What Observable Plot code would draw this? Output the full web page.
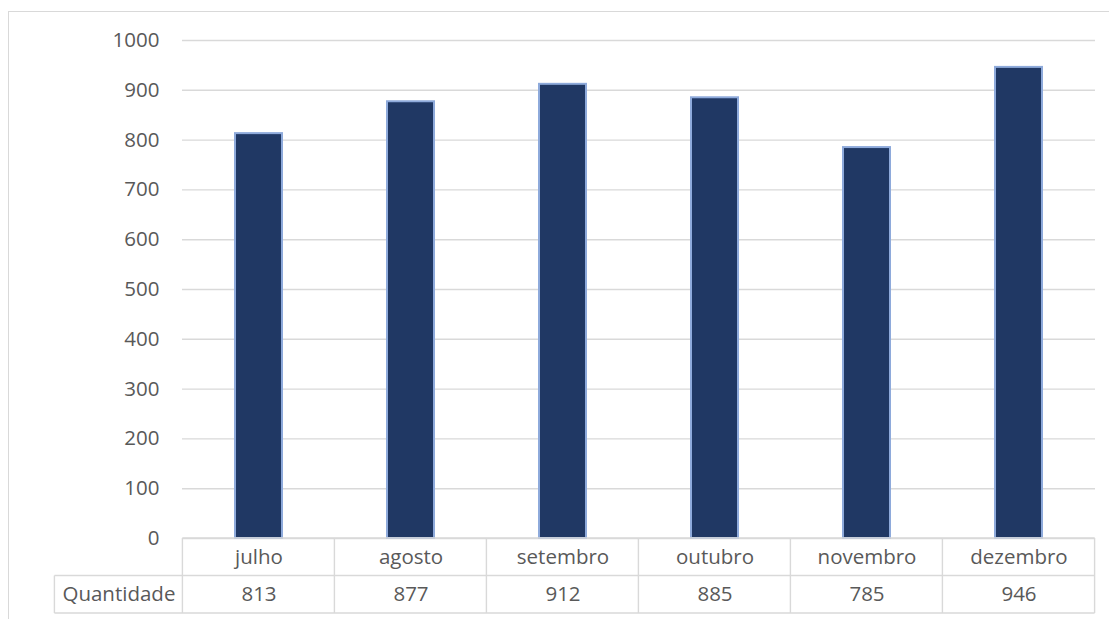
<!DOCTYPE html>
<html><head><meta charset="utf-8">
<script src="https://cdn.jsdelivr.net/npm/d3@7"></script>
<script src="https://cdn.jsdelivr.net/npm/@observablehq/plot@0.6"></script>
<style>
html,body{margin:0;padding:0;background:#fff;overflow:hidden;}
#wrap{position:relative;width:1109px;height:619px;overflow:hidden;background:#fff;}
#frame{position:absolute;left:8px;top:11px;width:1200px;height:700px;border-left:1px solid #d9d9d9;border-top:1px solid #d9d9d9;}
#chart{position:absolute;left:0;top:0;}
</style></head><body>
<div id="wrap"><div id="frame"></div><div id="chart"></div></div>
<script>
const months = ["julho", "agosto", "setembro", "outubro", "novembro", "dezembro"];
const quantities = [813, 877, 912, 885, 785, 946];
const seriesName = "Quantidade";
const yTicks = [0, 100, 200, 300, 400, 500, 600, 700, 800, 900, 1000];

const data = months.map((m, i) => ({month: m, value: quantities[i]}));

const FONT = "'Open Sans', sans-serif";
const FS = 20.5;
const TEXT = "#595959";
const GRID = "#d9d9d9";
const W = 1109, H = 619, ML = 182, MR = 14, MT = 40, MB = 81;
const STEP = (W - ML - MR) / months.length;
const ROW = 37.5;       // table row height
const HEAD_W = 128;     // width of the "Quantidade" header cell

function tableLines(index, scales, values, dims) {
  const x = scales.x;
  const bw = x.bandwidth ? x.bandwidth() : 0;
  const top = dims.height - dims.marginBottom;
  const edges = months.map(m => x(m) + bw / 2 - STEP / 2);
  edges.push(edges[edges.length - 1] + STEP);
  const left = edges[0], right = edges[edges.length - 1];
  const g = d3.create("svg:g").attr("stroke", GRID).attr("stroke-width", 1.4).attr("fill", "none");
  g.append("line").attr("x1", left).attr("x2", right).attr("y1", top).attr("y2", top);
  g.append("line").attr("x1", left - HEAD_W).attr("x2", right).attr("y1", top + ROW).attr("y2", top + ROW);
  g.append("line").attr("x1", left - HEAD_W).attr("x2", right).attr("y1", top + 2 * ROW).attr("y2", top + 2 * ROW);
  for (const e of edges) {
    g.append("line").attr("x1", e).attr("x2", e).attr("y1", top).attr("y2", top + 2 * ROW);
  }
  g.append("line").attr("x1", left - HEAD_W).attr("x2", left - HEAD_W).attr("y1", top + ROW).attr("y2", top + 2 * ROW);
  return g.node();
}

const chart = Plot.plot({
  width: W, height: H,
  marginLeft: ML, marginRight: MR, marginTop: MT, marginBottom: MB,
  style: {fontFamily: FONT, fontSize: FS + "px", color: TEXT, background: "transparent", overflow: "visible"},
  x: {type: "band", domain: months, paddingInner: 0.69, paddingOuter: 0.345, axis: null},
  y: {domain: [0, 1000]},
  marks: [
    Plot.gridY(yTicks, {stroke: GRID, strokeOpacity: 1, strokeWidth: 1.4}),
    Plot.axisY(yTicks, {tickSize: 0, tickPadding: 23, tickFormat: d => String(d), fontSize: FS, fontFamily: FONT, fill: TEXT, label: null}),
    Plot.barY(data, {x: "month", y: "value", fill: "#203864", stroke: "#8eaadb", strokeWidth: 2}),
    tableLines,
    Plot.text(data, {x: "month", text: "month", frameAnchor: "bottom", dy: ROW / 2, lineAnchor: "middle",
      fill: TEXT, fontSize: FS, fontFamily: FONT}),
    Plot.text(data, {x: "month", text: d => String(d.value), frameAnchor: "bottom", dy: ROW * 1.5, lineAnchor: "middle",
      fill: TEXT, fontSize: FS, fontFamily: FONT}),
    Plot.text([seriesName], {x: () => months[0], text: d => d, frameAnchor: "bottom", dy: ROW * 1.5,
      dx: -(STEP / 2 + HEAD_W / 2), lineAnchor: "middle", fill: TEXT, fontSize: FS, fontFamily: FONT})
  ]
});
document.getElementById("chart").appendChild(chart);
</script>
</body></html>
